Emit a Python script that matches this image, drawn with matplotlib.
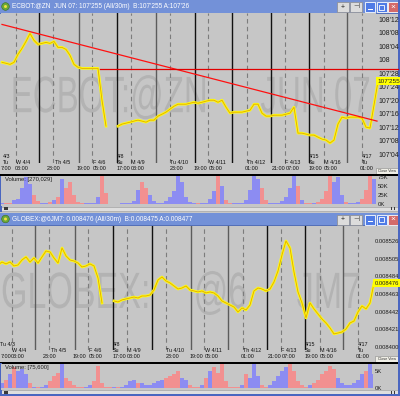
import numpy as np
import matplotlib.pyplot as plt
from matplotlib.patches import Rectangle, Circle
from matplotlib.patheffects import AbstractPathEffect
from matplotlib.transforms import Affine2D, blended_transform_factory

plt.rcParams['font.family'] = ['Liberation Sans', 'DejaVu Sans']

nan = np.nan

# 30-minute bars (one value every 4 px of chart width)
zn_close = [107.977, 107.968, 107.958, 107.977, 108.051, 108.106, 108.171, 108.245, 108.181, 108.144,
            108.153, 108.162, 108.153, 108.171, 108.116, 108.116, 108.097, 108.042, 107.958, 107.931,
            107.921, 107.921, 107.921, 107.921, 107.921, 107.625, 107.384, nan, nan, 107.384,
            107.403, 107.412, 107.421, 107.431, 107.440, 107.431, 107.421, 107.440, 107.440, 107.477,
            107.495, 107.514, 107.542, 107.569, 107.588, 107.588, 107.588, 107.597, 107.606, 107.597,
            107.606, 107.616, 107.625, 107.625, 107.606, 107.625, 107.560, 107.505, 107.514, 107.514,
            107.514, 107.523, 107.532, 107.588, 107.588, 107.505, 107.477, 107.477, 107.486, 107.486,
            107.486, 107.495, 107.505, 107.560, 107.319, 107.319, 107.310, 107.301, 107.301, 107.282,
            107.264, 107.255, 107.227, 107.255, 107.403, 107.468, 107.458, 107.468, 107.468, 107.468,
            107.458, 107.375, 107.366, 107.579, 107.801]
zn_volume_k = [3, 2, 4, 10, 14, 45, 75, 55, 25, 8, 4, 3, 6, 10, 20, 70, 45, 60, 25, 6,
               3, 2, 3, 3, 20, 80, 30, 1, 1, 1, 2, 2, 3, 8, 40, 60, 45, 25, 8, 3,
               3, 8, 20, 35, 80, 60, 20, 5, 3, 2, 3, 4, 15, 35, 80, 50, 10, 3, 2, 2,
               4, 10, 40, 80, 70, 45, 10, 3, 2, 3, 8, 20, 45, 80, 50, 10, 3, 2, 3, 5,
               15, 35, 80, 60, 75, 25, 6, 3, 3, 5, 15, 40, 80, 70, 10]

jy_close = [0.0084975, 0.0085010, 0.0084987, 0.0085010, 0.0084963, 0.0084975, 0.0085034, 0.0085070, 0.0085010, 0.0085058,
            0.0084998, 0.0085070, 0.0085141, 0.0085129, 0.0085058, 0.0084998, 0.0085177, 0.0085082, 0.0085034, 0.0085022,
            0.0084998, 0.0084951, 0.0084963, 0.0084987, 0.0084963, 0.0084820, 0.0084523, nan, nan, 0.0084547,
            0.0084535, 0.0084559, 0.0084571, 0.0084582, 0.0084594, 0.0084582, 0.0084606, 0.0084606, 0.0084618, 0.0084678,
            0.0084796, 0.0084832, 0.0084785, 0.0084761, 0.0084725, 0.0084689, 0.0084701, 0.0084725, 0.0084678, 0.0084666,
            0.0084654, 0.0084666, 0.0084642, 0.0084654, 0.0084642, 0.0084606, 0.0084547, 0.0084523, 0.0084499, 0.0084475,
            0.0084416, 0.0084464, 0.0084440, 0.0084499, 0.0084666, 0.0084701, 0.0084689, 0.0084666, 0.0084689, 0.0084773,
            0.0084903, 0.0085094, 0.0085260, 0.0085177, 0.0084892, 0.0084654, 0.0084523, 0.0084345, 0.0084523, 0.0084452,
            0.0084392, 0.0084333, 0.0084285, 0.0084226, 0.0084155, 0.0084166, 0.0084178, 0.0084214, 0.0084285, 0.0084309,
            0.0084416, 0.0084487, 0.0084452, 0.0084523, 0.0084760]
jy_volume_k = [0.5, 1.5, 2.5, 4, 6, 5, 5.5, 4, 1.5, 0.5, 0.3, 0.5, 1, 2, 3.5, 4.5, 7, 3, 2, 1,
               0.3, 0.3, 0.5, 1, 2, 6.5, 1.5, 0.3, 0.3, 0.3, 0.5, 0.5, 1, 2, 2.5, 1.5, 1.5, 1, 0.8, 1.5,
               2, 2.5, 3, 3.5, 4, 5, 3, 2.5, 1, 0.5, 0.5, 1, 3, 5, 6, 4.5, 7, 2, 0.5, 0.3,
               0.5, 1, 4, 3, 7, 3.5, 1, 0.5, 1, 2, 3.5, 5, 6, 7, 5, 2, 0.8, 0.5, 1, 1.5,
               2.5, 4, 5, 6.5, 5.5, 3, 1.5, 0.8, 1, 1.5, 2.5, 4, 5, 7, 4]

zn_ticks = [107.125, 107.25, 107.375, 107.5, 107.625, 107.75, 107.875, 108.0, 108.125, 108.25, 108.375]
jy_ticks = [0.008400, 0.008421, 0.008442, 0.008463, 0.008484, 0.008505, 0.008526]
zn_vol_ticks = [0, 25, 50, 75]
jy_vol_ticks = [0, 5]

# session boundaries, in bar units
session_solid = [9.25, 19.25, 28.75, 38.5, 48.25, 57.5, 67.25, 76.75, 86.25]
session_dashed = [3.5, 12.75, 22.5, 32.25, 42, 51.5, 61.25, 70.75, 80.5, 90]

# drawn lines on the bond chart
trend_x = [0, 93.75]
trend_y = [108.329, 107.431]
level_x = [24.5, 99]
level_y = [107.912, 107.912]

date_labels = [("4/8", 28.75), ("4/15", 76.75), ("4/17", 90)]
day_labels = [("W 4/4", 3.5), ("Th 4/5", 13.25), ("F 4/6", 22.75), ("Su", 28.75), ("M 4/9", 32.25),
              ("Tu 4/10", 42), ("W 4/11", 51.75), ("Th 4/12", 61.25), ("F 4/13", 70.75), ("Su", 76.75),
              ("M 4/16", 80.5), ("Tu", 90)]
time_labels = [("03:00", 3.25), ("23:00", 11.25), ("19:00", 18.75), ("05:00", 22.75), ("17:00", 28.75),
               ("03:00", 32.25), ("23:00", 42), ("19:00", 48.0), ("05:00", 51.6), ("01:00", 60.75),
               ("21:00", 67.4), ("07:00", 71.0), ("19:00", 76.75), ("05:00", 80.4), ("01:00", 89.5)]

W, H = 400, 396
PANEL = '#c6c6c6'
WATER = '#b3b3b3'
TITLE = '#7391d8'
UP, DOWN = '#8c8cf2', '#f29090'


class Stretch(AbstractPathEffect):
    """Stretch text glyphs vertically about their baseline."""
    def __init__(self, sy):
        super().__init__()
        self.sy = sy

    def draw_path(self, renderer, gc, tpath, affine, rgbFace=None):
        m = affine.get_matrix().copy()
        m[1, 0] *= self.sy
        m[1, 1] *= self.sy
        renderer.draw_path(gc, tpath, Affine2D(m), rgbFace)


fig = plt.figure(figsize=(W / 100, H / 100), dpi=100, facecolor=PANEL)


def axes_px(x0, y0, x1, y1, **kw):
    return fig.add_axes([x0 / W, 1 - y1 / H, (x1 - x0) / W, (y1 - y0) / H], **kw)


ui = axes_px(0, 0, W, H, zorder=-5)
ui.set_xlim(0, W)
ui.set_ylim(H, 0)
ui.axis('off')


def panel(x0, y0, x1, y1, labelsize):
    ax = axes_px(x0, y0, x1, y1)
    ax.set_facecolor(PANEL)
    for s in ax.spines.values():
        s.set_visible(False)
    ax.tick_params(axis='x', length=0, labelbottom=False)
    ax.yaxis.tick_right()
    ax.tick_params(axis='y', length=0, pad=1.5, labelsize=labelsize, labelcolor='#1e1e1e')
    return ax


def fmt32(v):
    whole = int(v + 1e-9)
    t = int(round((v - whole) * 32))
    return f"{whole}" if t == 0 else f"{whole}'{t:02d}"


def sessions(ax, dark):
    for k, xs in enumerate(session_solid):
        ax.axvline(xs, color='#111111' if k in dark else '#5c5c5c', lw=1.0, zorder=1)
    for xs in session_dashed:
        ax.axvline(xs, color='#7c7c7c', lw=0.8, ls=(0, (4, 3)), zorder=1)


def dates(ax, y0, y1, rows, first):
    tr = blended_transform_factory(ax.transData, ax.transAxes)
    for row, items in zip(rows, (date_labels, day_labels, time_labels)):
        for s, x in first.get(row, []) + items:
            ax.text(x, (y1 - row) / (y1 - y0), s, transform=tr, fontsize=3.9,
                    ha='left', va='center', color='#101010', clip_on=False)


def watermark(ax, pieces, base, size, sy):
    for s, x in pieces:
        ax.text(x, base, s, transform=ax.transAxes, fontsize=size, color=WATER,
                va='baseline', ha='left', zorder=0, path_effects=[Stretch(sy)])


def volume(ax, vals, closes, top, ticks, label):
    xi = np.arange(len(vals))
    cols = []
    prev = closes[0]
    for c in closes:
        if np.isnan(c):
            cols.append(DOWN)
            continue
        cols.append(UP if c >= prev else DOWN)
        prev = c
    ax.bar(xi, vals, width=0.8, color=cols, linewidth=0, zorder=2)
    ax.set_ylim(-top * 0.07, top)
    ax.set_yticks(ticks)
    ax.set_yticklabels([f"{t}K" for t in ticks])
    ax.text(0.01, 0.97, label, transform=ax.transAxes, fontsize=4.2, va='top', color='#202020')


def title_bar(y, text):
    ui.add_patch(Rectangle((0, y), W, 13.5, fc=TITLE, ec='none'))
    ui.add_patch(Rectangle((0, y + 12.5), W, 1, fc='#5470b8', ec='none'))
    ui.add_patch(Circle((5.5, y + 6.5), 3.8, fc='#6aa83a', ec='#3c6a20', lw=0.4))
    ui.add_patch(Circle((5.5, y + 6.5), 1.5, fc='#f0e040', ec='none'))
    ui.text(11.5, y + 6.8, text, fontsize=4.7, color='white', va='center', ha='left')
    for bx, sym in ((337, '+'), (350, '\u22a3')):
        ui.add_patch(Rectangle((bx, y + 2), 12, 10, fc='#dcdcdc', ec='#8c8c8c', lw=0.5))
        ui.text(bx + 6, y + 7, sym, fontsize=5, ha='center', va='center', color='#202020')
    for bx, fc in ((365, '#4f7be6'), (376.5, '#4f7be6'), (388, '#d46a6a')):
        ui.add_patch(Rectangle((bx, y + 2), 10, 10, fc=fc, ec='white', lw=0.6))
    ui.add_patch(Rectangle((367.5, y + 8.5), 5, 1.2, fc='white', ec='none'))
    ui.add_patch(Rectangle((379, y + 4.5), 5, 5, fc='none', ec='white', lw=0.6))
    ui.text(393, y + 7, '\u00d7', fontsize=6, ha='center', va='center', color='white')


def scroll(y):
    ui.add_patch(Rectangle((1, y), W - 2, 4.5, fc='#dedede', ec='#9a9a9a', lw=0.4))
    ui.add_patch(Rectangle((4, y + 0.8), 3.5, 3, fc='#3a3a3a', ec='none'))
    ui.add_patch(Rectangle((391, y + 0.8), 1.2, 3, fc='#3a3a3a', ec='none'))
    ui.add_patch(Rectangle((393.5, y + 0.8), 1.2, 3, fc='#3a3a3a', ec='none'))


def close_view(x, y):
    ui.add_patch(Rectangle((x, y), 23, 6, fc='#efeee6', ec='#8a8a8a', lw=0.4))
    ui.text(x + 11.5, y + 3.1, 'Close View', fontsize=2.6, ha='center', va='center', color='#303030')


# ---------------- bond window ----------------
title_bar(0, "ECBOT:@ZN  JUN 07: 107'255 (All/30m)  B:107'255 A:107'26")

ax1 = panel(1, 13.5, 376, 163, 5.0)
ax1.set_xlim(-0.25, 93.5)
ax1.set_ylim(107.0417, 108.4306)
ax1.set_yticks(zn_ticks)
ax1.set_yticklabels([fmt32(t) for t in zn_ticks])
sessions(ax1, dark={0, 2, 4, 5, 6, 7})
watermark(ax1, [("ECBOT:@ZN", 0.026), ("JUN 07", 0.692)], 0.34, 23.8, 1.55)
xi = np.arange(len(zn_close))
ax1.plot(xi, zn_close, color='#ffff10', lw=1.9, zorder=3, clip_on=False)
ax1.plot(xi, zn_close, color='#e3a600', lw=0.6, zorder=4, clip_on=False)
ax1.plot(trend_x, trend_y, color='#ff1010', lw=0.9, zorder=5, clip_on=False)
ax1.plot(level_x, level_y, color='#e00000', lw=0.9, zorder=5, clip_on=False)
ax1.text(1.004, zn_close[-1], "107'255", transform=ax1.get_yaxis_transform(), fontsize=4.6,
         va='center', ha='left', color='#202020', clip_on=False, zorder=6,
         bbox=dict(boxstyle='square,pad=0.25', fc='#ffff00', ec='none'))
dates(ax1, 13.5, 163, (157, 162.5, 168.5),
      {157: [("4/3", 0.1)], 162.5: [("Tu", 0.1)], 168.5: [("7:00", -0.4)]})
close_view(376, 168)

ui.add_patch(Rectangle((0, 174), W, 2, fc='#000000', ec='none'))
ax2 = panel(1, 176, 376, 206, 4.3)
ax2.set_xlim(-0.25, 93.5)
volume(ax2, zn_volume_k, zn_close, 78, zn_vol_ticks, "Volume: [270,029]")
scroll(206.5)

# ---------------- yen window ----------------
title_bar(212.5, "GLOBEX:@6JM7: 0.008476 (All/30m)  B:0.008475 A:0.008477")

ax3 = panel(1, 226, 373, 350, 4.2)
ax3.set_xlim(0.75, 93.75)
ax3.set_ylim(0.0083964, 0.0085438)
ax3.set_yticks(jy_ticks)
ax3.set_yticklabels([f"{t:.6f}" for t in jy_ticks])
sessions(ax3, dark={2, 3, 6, 7})
watermark(ax3, [("GLOBEX:", 0.0), ("@6", 0.518), ("JM7", 0.795)], 0.339, 24.5, 1.5)
xj = np.arange(len(jy_close))
ax3.plot(xj, jy_close, color='#ffff10', lw=1.9, zorder=3, clip_on=False)
ax3.plot(xj, jy_close, color='#e3a600', lw=0.6, zorder=4, clip_on=False)
ax3.text(1.005, jy_close[-1], "0.008476", transform=ax3.get_yaxis_transform(), fontsize=4.2,
         va='center', ha='left', color='#202020', clip_on=False, zorder=6,
         bbox=dict(boxstyle='square,pad=0.25', fc='#ffff00', ec='none'))
dates(ax3, 226, 350, (344, 350, 356),
      {344: [("Tu 4/3", 0.6)], 356: [("7:00", 0.6)]})
close_view(375, 356)

ui.add_patch(Rectangle((0, 362), W, 1.8, fc='#000000', ec='none'))
ax4 = panel(1, 363.8, 373, 390, 4.3)
ax4.set_xlim(0.75, 93.75)
volume(ax4, jy_volume_k, jy_close, 7.0, jy_vol_ticks, "Volume: [75,600]")
scroll(390)

# window borders
ui.add_patch(Rectangle((0, 393.5), W, 2.5, fc='#4a66c0', ec='none'))
ui.add_patch(Rectangle((398, 0), 2, H, fc='#4a66c0', ec='none'))
ui.add_patch(Rectangle((0, 176), 1.5, 36, fc='#4a66c0', ec='none'))
ui.add_patch(Rectangle((0, 363), 1.5, 33, fc='#4a66c0', ec='none'))

fig.savefig('out.png', dpi=100, facecolor=fig.get_facecolor())
